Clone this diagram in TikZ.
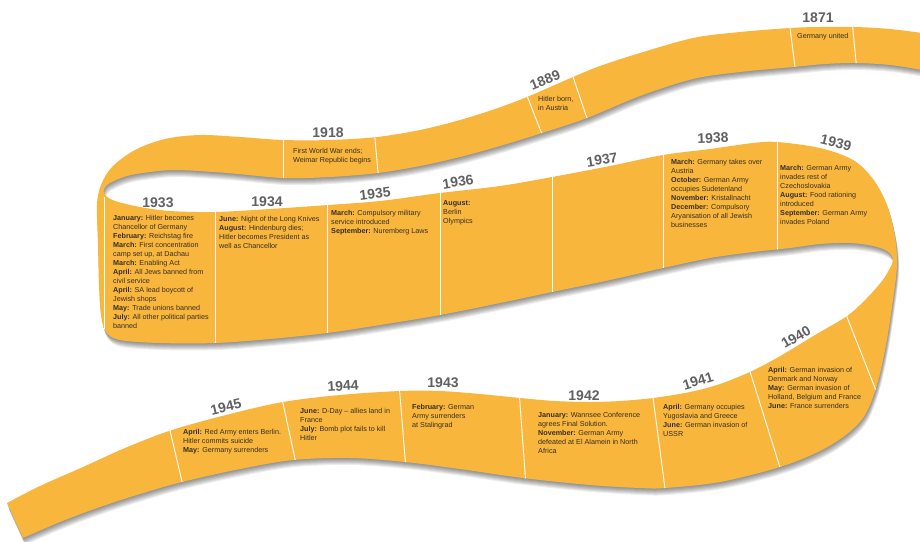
\documentclass[tikz,border=0pt]{standalone}
\usepackage{fontspec}
\setmainfont{Liberation Sans}
\definecolor{ribbon}{RGB}{249,182,60}
\definecolor{yeargray}{RGB}{96,96,96}
\definecolor{txt}{RGB}{52,46,40}
\tikzset{
  yearlbl/.style={font=\fontsize{14}{14}\selectfont\bfseries, text=yeargray, inner sep=0pt},
  info/.style={font=\fontsize{7.2}{9}\selectfont, text=txt, anchor=north west, align=left, inner sep=0pt},
  divider/.style={draw=white, line width=0.9pt},
}
\newcommand\ribbonpath{plot[smooth,tension=0.55] coordinates {
(922,33) (890,29) (855,27) (820,27) (790,28) (740,32) (693,38) (640,53) (600,66) (573,77) (527,97) (495,109) (460,120) (420,130) (377,137) (330,140) (283,140) (240,137) (200,135) (165,139) (135,150) (112,167) (101,185) (97,205) (98,245) (99,285) (101,315) (106,332) (120,340) (160,343) (215,343) (270,339) (327,333) (380,325) (440,315) (500,303) (552,292) (610,280) (663,268) (710,258) (753,252) (790,248) (820,244) (850,243) (873,246) (887,251) (893,259) (890,268) (882,281) (866,299) (847,316) (815,335) (782,355) (752,371) (720,384) (690,392) (653,398) (620,401) (590,402) (555,401) (520,398) (480,394) (440,391) (400,391) (340,395) (283,402) (230,414) (172,430) (125,448) (83,467) (40,486) (7,503)}
 -- plot[smooth,tension=0.55] coordinates {
(23,538) (60,522) (100,507) (140,494) (182,482) (240,469) (293,460) (350,458) (405,462) (460,469) (523,478) (590,485) (640,488) (665,488) (720,482) (780,467) (820,451) (847,434) (865,415) (877,385) (886,345) (893,300) (897,265) (895,237) (887,205) (873,179) (853,160) (820,148) (777,142) (753,143) (710,149) (663,155) (610,166) (552,177) (500,186) (440,193) (380,201) (328,205) (270,209) (215,212) (170,211) (140,207) (115,201) (105,195) (104,189) (110,183) (127,176) (150,172) (177,170) (227,173) (283,178) (330,177) (378,173) (420,166) (460,157) (500,146) (542,133) (587,118) (640,96) (693,79) (740,72) (793,67) (825,64) (856,63) (890,65) (922,70)}
 -- cycle}
\begin{document}
\begin{tikzpicture}[x=1pt,y=-1pt]
\fill[white] (0,0) rectangle (920,541);
\useasboundingbox (0,0) rectangle (920,541);
% shadow
\foreach \d in {1,2,...,7}{
  \fill[black,opacity=0.07,shift={(0.3*\d,\d)}] \ribbonpath;
}
% ribbon
\fill[ribbon] \ribbonpath;
% dividers
\begin{scope}
\clip \ribbonpath;
\draw[divider] (852,20) -- (857,72);
\draw[divider] (789,20) -- (796,75);
\draw[divider] (570,68) -- (590,127);
\draw[divider] (524,88) -- (545,142);
\draw[divider] (374,128) -- (379,183);
\draw[divider] (283,130) -- (283,188);
\draw[divider] (104,197) -- (104,350);
\draw[divider] (215,205) -- (215,350);
\draw[divider] (327,198) -- (327,340);
\draw[divider] (440,186) -- (440,322);
\draw[divider] (552,170) -- (552,300);
\draw[divider] (663,148) -- (663,276);
\draw[divider] (777,135) -- (777,256);
\draw[divider] (843,307) -- (877,393);
\draw[divider] (747,362) -- (783,477);
\draw[divider] (652,390) -- (666,496);
\draw[divider] (519,390) -- (526,486);
\draw[divider] (399,383) -- (406,470);
\draw[divider] (281,394) -- (297,468);
\draw[divider] (168,422) -- (184,490);
\end{scope}
% years
\node[yearlbl] (y1871) at (818,18) {1871};
\node[yearlbl,rotate=22] (y1889) at (545,80) {1889};
\node[yearlbl] (y1918) at (328,133) {1918};
\node[yearlbl] (y1933) at (158,203) {1933};
\node[yearlbl] (y1934) at (267,202) {1934};
\node[yearlbl,rotate=7] (y1935) at (375,194) {1935};
\node[yearlbl,rotate=9] (y1936) at (458,182) {1936};
\node[yearlbl,rotate=9] (y1937) at (602,160) {1937};
\node[yearlbl,rotate=2] (y1938) at (713,138) {1938};
\node[yearlbl,rotate=-14] (y1939) at (836,143) {1939};
\node[yearlbl,rotate=30] (y1940) at (796,337) {1940};
\node[yearlbl,rotate=17] (y1941) at (698,381) {1941};
\node[yearlbl] (y1942) at (584,396) {1942};
\node[yearlbl] (y1943) at (443,383) {1943};
\node[yearlbl,rotate=4] (y1944) at (343,386) {1944};
\node[yearlbl,rotate=13] (y1945) at (226,407) {1945};
% texts
\node[info] (t1871) at (797,33) {Germany united};
\node[info] (t1889) at (538,96) {Hitler born,\\in Austria};
\node[info] (t1918) at (293,148) {First World War ends;\\Weimar Republic begins};
\node[info] (t1933) at (113,215) {\textbf{January:} Hitler becomes\\Chancellor of Germany\\\textbf{February:} Reichstag fire\\\textbf{March:} First concentration\\camp set up, at Dachau\\\textbf{March:} Enabling Act\\\textbf{April:} All Jews banned from\\civil service\\\textbf{April:} SA lead boycott of\\Jewish shops\\\textbf{May:} Trade unions banned\\\textbf{July:} All other political parties\\banned};
\node[info] (t1934) at (219,216) {\textbf{June:} Night of the Long Knives\\\textbf{August:} Hindenburg dies;\\Hitler becomes President as\\well as Chancellor};
\node[info] (t1935) at (331,210) {\textbf{March:} Compulsory military\\service introduced\\\textbf{September:} Nuremberg Laws};
\node[info] (t1936) at (443,200) {\textbf{August:}\\Berlin\\Olympics};
\node[info] (t1938) at (671,159) {\textbf{March:} Germany takes over\\Austria\\\textbf{October:} German Army\\occupies Sudetenland\\\textbf{November:} Kristallnacht\\\textbf{December:} Compulsory\\Aryanisation of all Jewish\\businesses};
\node[info] (t1939) at (780,165) {\textbf{March:} German Army\\invades rest of\\Czechoslovakia\\\textbf{August:} Food rationing\\introduced\\\textbf{September:} German Army\\invades Poland};
\node[info] (t1940) at (768,367) {\textbf{April:} German invasion of\\Denmark and Norway\\\textbf{May:} German invasion of\\Holland, Belgium and France\\\textbf{June:} France surrenders};
\node[info] (t1941) at (663,404) {\textbf{April:} Germany occupies\\Yugoslavia and Greece\\\textbf{June:} German invasion of\\USSR};
\node[info] (t1942) at (538,412) {\textbf{January:} Wannsee Conference\\agrees Final Solution.\\\textbf{November:} German Army\\defeated at El Alamein in North\\Africa};
\node[info] (t1943) at (412,404) {\textbf{February:} German\\Army surrenders\\at Stalingrad};
\node[info] (t1944) at (300,408) {\textbf{June:} D-Day -- allies land in\\France\\\textbf{July:} Bomb plot fails to kill\\Hitler};
\node[info] (t1945) at (183,429) {\textbf{April:} Red Army enters Berlin.\\Hitler commits suicide\\\textbf{May:} Germany surrenders};
\end{tikzpicture}
\end{document}
